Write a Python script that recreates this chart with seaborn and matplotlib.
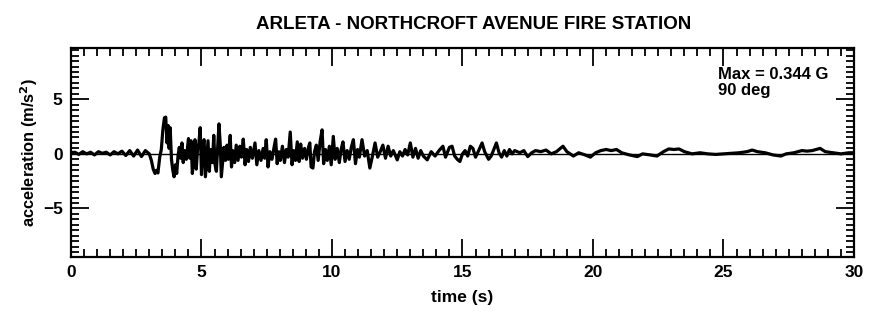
import matplotlib

matplotlib.use("Agg")
import matplotlib.pyplot as plt
import pandas as pd
import seaborn as sns
from matplotlib.ticker import MultipleLocator

# values (time in s, acceleration in m/s^2)
time_s = [
    0.0, 0.15, 0.3, 0.45, 0.6, 0.75, 0.9, 1.05, 1.2, 1.35, 1.5, 1.65, 1.8, 1.95, 2.1, 2.25,
    2.4, 2.55, 2.7, 2.85, 3.0, 3.08, 3.15, 3.22, 3.28, 3.33, 3.4, 3.46, 3.52, 3.58, 3.63,
    3.68, 3.72, 3.76, 3.8, 3.85, 3.9, 3.95, 4.0, 4.05, 4.1, 4.15, 4.2, 4.25, 4.3, 4.35,
    4.42, 4.5, 4.55, 4.6, 4.65, 4.7, 4.75, 4.8, 4.85, 4.9, 4.95, 5.0, 5.05, 5.1, 5.15,
    5.2, 5.25, 5.3, 5.35, 5.42, 5.47, 5.52, 5.57, 5.62, 5.67, 5.72, 5.76, 5.81, 5.86,
    5.92, 5.98, 6.03, 6.1, 6.15, 6.2, 6.27, 6.33, 6.4, 6.47, 6.53, 6.6, 6.67, 6.73, 6.8,
    6.87, 6.95, 7.05, 7.12, 7.2, 7.28, 7.36, 7.42, 7.48, 7.55, 7.62, 7.7, 7.78, 7.84,
    7.9, 7.96, 8.02, 8.1, 8.18, 8.25, 8.32, 8.4, 8.47, 8.53, 8.6, 8.67, 8.74, 8.8, 8.87,
    8.95, 9.02, 9.1, 9.15, 9.2, 9.27, 9.33, 9.4, 9.47, 9.55, 9.62, 9.68, 9.75, 9.82, 9.9,
    9.97, 10.05, 10.12, 10.2, 10.28, 10.35, 10.42, 10.5, 10.58, 10.66, 10.74, 10.82,
    10.9, 10.98, 11.05, 11.15, 11.25, 11.35, 11.45, 11.55, 11.65, 11.75, 11.85, 11.95,
    12.05, 12.15, 12.25, 12.35, 12.5, 12.6, 12.7, 12.8, 12.9, 13.0, 13.1, 13.2, 13.3,
    13.4, 13.5, 13.65, 13.8, 13.95, 14.1, 14.25, 14.35, 14.5, 14.6, 14.7, 14.8, 14.9,
    15.0, 15.1, 15.2, 15.3, 15.4, 15.5, 15.6, 15.75, 15.85, 16.0, 16.1, 16.2, 16.3, 16.4,
    16.5, 16.6, 16.7, 16.8, 16.9, 17.0, 17.2, 17.35, 17.5, 17.65, 17.8, 18.0, 18.2, 18.4,
    18.6, 18.85, 19.0, 19.25, 19.45, 19.7, 19.9, 20.1, 20.3, 20.5, 20.7, 20.9, 21.1, 21.4,
    21.7, 21.9, 22.2, 22.45, 22.7, 22.9, 23.1, 23.3, 23.5, 23.8, 24.1, 24.4, 24.7, 25.0,
    25.3, 25.6, 25.9, 26.1, 26.3, 26.6, 26.9, 27.2, 27.4, 27.7, 28.0, 28.2, 28.4, 28.7,
    28.9, 29.2, 29.5, 29.8, 30.0,
]
accel = [
    0.1, 0.15, -0.05, 0.2, 0.0, 0.15, -0.1, 0.2, 0.05, 0.15, -0.1, 0.2, 0.0, 0.25, -0.15, 0.3,
    -0.2, 0.35, -0.25, 0.3, 0.0, -0.6, -1.4, -1.8, -1.5, -1.75, -0.3, 0.4, 2.2, 3.3, 3.37,
    1.0, 2.6, 0.5, 2.4, -0.5, -1.5, -2.1, -1.0, -1.8, -0.2, 0.6, -0.4, 1.0, -0.8, 0.3,
    -0.5, 1.4, -0.4, 1.2, -1.8, -0.5, 1.3, -1.4, 0.5, 1.0, 2.4, -1.9, 0.8, 1.3, -2.1,
    -0.5, 1.2, -1.6, 0.4, -0.8, 1.7, -1.0, -1.6, 0.5, 2.75, 0.8, -2.1, -0.8, 0.6,
    -0.6, 0.8, -0.5, 1.7, -1.2, 0.3, -0.8, 0.8, -0.6, 0.7, -0.3, 1.35, -1.0, 0.4, -0.7,
    0.6, -0.4, 1.0, -1.0, 0.3, -0.6, 0.5, -0.4, 1.3, -1.2, 0.2, -0.5, 0.6, 1.35,
    -0.9, 0.2, -0.6, 0.7, -0.8, 0.4, -0.3, 2.0, -1.0, 0.3, -0.6, 1.1, -0.7, 0.9, -0.4,
    0.5, -0.5, 0.6, 1.0, -1.2, -1.3, 0.2, 0.8, -0.6, 1.2, 2.2, -0.9, 0.4, -0.6, 0.7,
    -1.0, 1.6, -0.5, 0.5, -0.8, 0.4, 1.1, -0.7, 0.3, -0.5, 0.6, 1.3,
    -0.9, 0.4, -0.3, 1.3, -0.2, 0.3, -1.3, -0.2, 1.0, -0.3, 0.2, 0.8,
    -0.4, 0.7, -0.2, 0.3, -0.55, 0.2, -0.2, 0.4, -0.1, 1.0, -0.3, 0.5, -0.4,
    0.3, -0.2, -0.55, 0.2, -0.2, 0.3, 0.7, -0.3, 0.6, 0.7, -0.2, -0.5, -0.7,
    0.0, 0.3, -0.2, 0.7, 0.5, -0.3, 0.2, 1.0, 0.2, -0.5, -0.2, 0.4, 1.0, 0.1,
    -0.3, 0.3, -0.2, 0.4, 0.0, 0.3, 0.1, 0.3, -0.25, 0.1, 0.3, 0.2, 0.35, 0.0,
    0.2, 0.7, 0.2, -0.2, 0.1, -0.1, -0.3, 0.1, 0.3, 0.4, 0.3, 0.4, 0.1, -0.1,
    -0.25, 0.0, -0.1, -0.2, 0.2, 0.45, 0.4, 0.45, 0.2, 0.0, 0.1, 0.0, -0.05, 0.0,
    0.05, 0.1, 0.2, 0.35, 0.2, 0.1, -0.1, -0.2, 0.0, 0.1, 0.3, 0.25, 0.3, 0.5,
    0.2, 0.1, 0.0, 0.1, 0.1,
]
title = "ARLETA - NORTHCROFT AVENUE FIRE STATION"
note_max = "Max = 0.344 G"
note_angle = "90 deg"

sns.set_style("ticks")
plt.rcParams["font.family"] = ["Liberation Sans", "DejaVu Sans"]
plt.rcParams["font.weight"] = "bold"
plt.rcParams["text.color"] = "black"
plt.rcParams["axes.labelcolor"] = "black"
plt.rcParams["xtick.color"] = "black"
plt.rcParams["ytick.color"] = "black"

trace = pd.DataFrame({"time": time_s, "accel": accel})

fig, ax = plt.subplots(figsize=(8.7, 3.19), dpi=100)
fig.subplots_adjust(left=0.0816, right=0.9816, bottom=0.1944, top=0.8495)

ax.axhline(0, color="black", lw=1.0, zorder=1)
sns.lineplot(data=trace, x="time", y="accel", color="black", lw=2.3, ax=ax, zorder=2)

ax.set_xlim(0, 30)
ax.set_ylim(-9.45, 9.7)
ax.xaxis.set_major_locator(MultipleLocator(5))
ax.xaxis.set_minor_locator(MultipleLocator(0.5))
ax.yaxis.set_major_locator(MultipleLocator(5))
ax.yaxis.set_minor_locator(MultipleLocator(0.5))
ax.tick_params(which="both", direction="in", top=True, right=True, width=1.3)
ax.tick_params(which="major", length=13, labelsize=12.5, pad=6)
ax.tick_params(which="minor", length=6)
for label in ax.get_xticklabels() + ax.get_yticklabels():
    label.set_fontweight("bold")
for spine in ax.spines.values():
    spine.set_linewidth(1.6)
    spine.set_color("black")

ax.set_xlabel("time (s)", fontsize=12.5, fontweight="bold", labelpad=7)
ax.set_ylabel("acceleration (m/s$^\\mathbf{2}$)", fontsize=11.8, fontweight="bold", labelpad=2)
ax.set_title(title, fontsize=13.5, fontweight="bold", pad=14, x=0.514)
ax.text(24.8, 6.85, note_max, fontsize=12, fontweight="bold", va="baseline", ha="left")
ax.text(24.8, 5.35, note_angle, fontsize=12, fontweight="bold", va="baseline", ha="left")

fig.savefig("out.png", dpi=100)
plt.close(fig)
